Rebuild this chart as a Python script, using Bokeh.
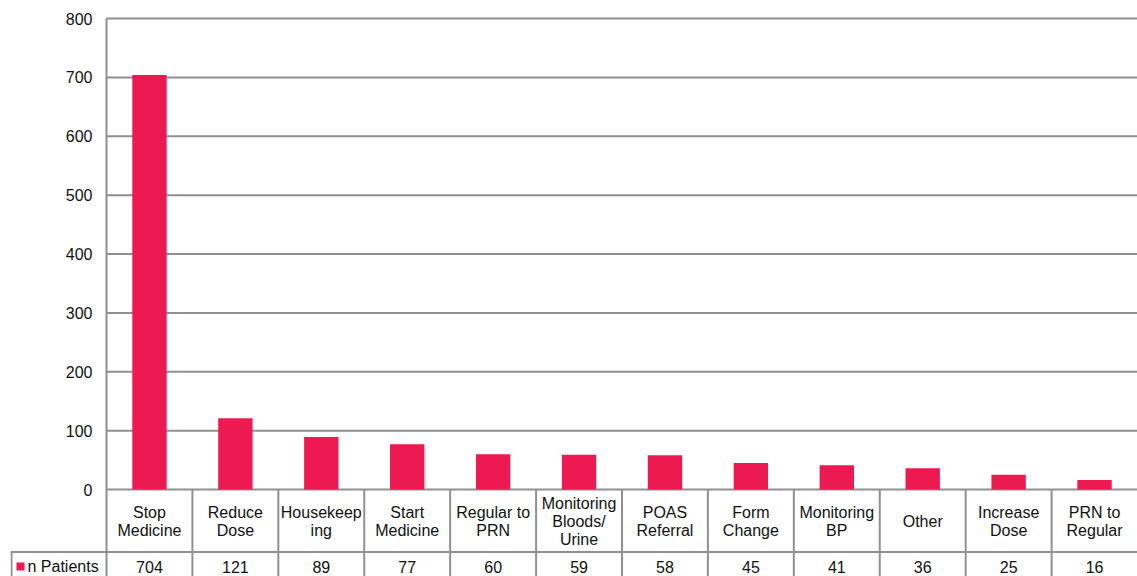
from bokeh.plotting import figure
from bokeh.models import Range1d, ColumnDataSource
from bokeh.core.properties import value
from bokeh.embed import file_html
from bokeh.resources import INLINE

# Medication review outcomes
categories = ["Stop\nMedicine", "Reduce\nDose", "Housekeep\ning", "Start\nMedicine",
              "Regular to\nPRN", "Monitoring\nBloods/\nUrine", "POAS\nReferral",
              "Form\nChange", "Monitoring\nBP", "Other", "Increase\nDose", "PRN to\nRegular"]
n_patients = [704, 121, 89, 77, 60, 59, 58, 45, 41, 36, 25, 16]
series_name = "n Patients"
y_ticks = [0, 100, 200, 300, 400, 500, 600, 700, 800]

BAR = "#ED1A51"
LINE = "#909090"
FONT = "Liberation Sans"
FS = "16px"
TXT = "#111111"

W, H = 1137, 576
n = len(categories)

# pixel layout of the chart and its data table
frame_left = 10          # left edge of the legend cell
axis_px = 106            # value axis / first category boundary
top_px, zero_px = 18, 489
row_top_px = 551         # line between category row and value row
px_per_cat = (W - axis_px) / n
px_per_unit = (zero_px - top_px) / 800.0

x_lo = -(axis_px - frame_left) / px_per_cat
y_low = -(H - zero_px) / px_per_unit
y_high = zero_px / px_per_unit
y_max = y_ticks[-1]


def ydata(px):
    return (zero_px - px) / px_per_unit


def xoff(px):
    return px / px_per_cat


xs = [i + 0.5 for i in range(n)]
src = ColumnDataSource(dict(x=xs, top=n_patients, label=categories,
                            vals=[str(v) for v in n_patients]))

p = figure(width=W, height=H, output_backend="svg", toolbar_location=None,
           x_range=Range1d(x_lo, n), y_range=Range1d(y_low, y_high),
           x_axis_location=None, y_axis_location=None,
           min_border_left=frame_left, min_border_right=0,
           min_border_top=0, min_border_bottom=0)
p.outline_line_color = None
p.grid.visible = False
p.background_fill_color = "white"
p.border_fill_color = "white"

# value gridlines and axis labels
p.segment(x0=[0] * len(y_ticks), y0=y_ticks, x1=[n] * len(y_ticks), y1=y_ticks,
          line_color=LINE, line_width=2)
p.text(x=[-xoff(14)] * len(y_ticks), y=y_ticks, text=[str(v) for v in y_ticks],
       text_align="right", text_baseline="middle", text_font=value(FONT),
       text_font_size=FS, text_color=TXT)
p.segment(x0=[0], y0=[y_max], x1=[0], y1=[y_low], line_color=LINE, line_width=2)

# bars
p.vbar(x="x", top="top", bottom=0, width=0.4, source=src,
       fill_color=BAR, line_color=None)

# category cells below the axis
bx = list(range(1, n))
p.segment(x0=bx, y0=[0] * len(bx), x1=bx, y1=[y_low] * len(bx),
          line_color=LINE, line_width=2)
p.text(x="x", y=ydata(521), text="label", source=src, text_align="center",
       text_baseline="middle", text_font=value(FONT), text_font_size=FS,
       text_color=TXT, text_line_height=1.05)

# value row with the legend key
row_y = ydata(row_top_px + 0.5)
p.segment(x0=[x_lo], y0=[row_y], x1=[n], y1=[row_y], line_color=LINE, line_width=2)
p.segment(x0=[x_lo + xoff(1)], y0=[row_y], x1=[x_lo + xoff(1)], y1=[y_low],
          line_color=LINE, line_width=2)
val_y = ydata(566)
p.text(x="x", y=val_y, text="vals", source=src, text_align="center",
       text_baseline="middle", text_font=value(FONT), text_font_size=FS,
       text_color=TXT)
p.rect(x=[x_lo + xoff(10)], y=[ydata(566)], width=xoff(8), height=8 / px_per_unit,
       fill_color=BAR, line_color=None)
p.text(x=[x_lo + xoff(17)], y=[val_y], text=[series_name],
       text_align="left", text_baseline="middle", text_font=value(FONT),
       text_font_size=FS, text_color=TXT)

open("out.html", "w").write(file_html(p, INLINE))
